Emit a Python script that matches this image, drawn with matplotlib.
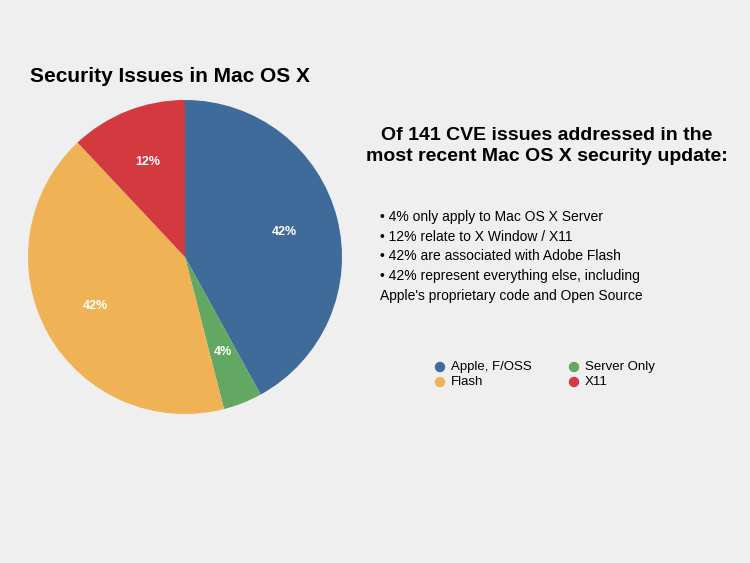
import matplotlib
matplotlib.use("Agg")
import matplotlib.pyplot as plt
plt.rcParams["font.family"] = "Liberation Sans"

categories = ["Apple, F/OSS", "Server Only", "Flash", "X11"]
values = [42, 4, 42, 12]
colors = ["#3f6b9b", "#62a862", "#efb255", "#d23a40"]
bullets = ["• 4% only apply to Mac OS X Server",
           "• 12% relate to X Window / X11",
           "• 42% are associated with Adobe Flash",
           "• 42% represent everything else, including",
           "Apple's proprietary code and Open Source"]

W, H = 750, 563
fig = plt.figure(figsize=(7.5, 5.63), dpi=100, facecolor="#efefef")
cx, cy, r = 185, 257, 157
ax = fig.add_axes([(cx - r) / W, 1 - (cy + r) / H, 2 * r / W, 2 * r / H])
ax.set_facecolor("#efefef")
wedges, texts, autotexts = ax.pie(values, colors=colors, startangle=90, counterclock=False,
                                  autopct=lambda p: f"{p:.0f}%", pctdistance=0.65,
                                  textprops=dict(color="white", fontsize=9, fontweight="bold"))
ax.set_xlim(-1, 1)
ax.set_ylim(-1, 1)
ax.set_aspect("equal")

fig.text(30 / W, 1 - 77 / H, "Security Issues in Mac OS X", fontsize=15, fontweight="bold",
         va="center", ha="left")
fig.text(547 / W, 1 - 146 / H, "Of 141 CVE issues addressed in the\nmost recent Mac OS X security update:",
         fontsize=14, fontweight="bold", ha="center", va="center", linespacing=1.25)
for i, b in enumerate(bullets):
    fig.text(380 / W, 1 - (217 + i * 19.7) / H, b, fontsize=10, va="center", ha="left")

lx = [440, 574]
ly = [367, 382]
order = [(0, 0, 0), (1, 1, 0), (2, 0, 1), (3, 1, 1)]
for idx, c, rr in order:
    x, y = lx[c] / W, 1 - ly[rr] / H
    fig.patches.append(matplotlib.patches.Ellipse((x, y), 9 / W, 9 / H, transform=fig.transFigure,
                                                  color=colors[idx], figure=fig))
    fig.text(x + 11 / W, y, categories[idx], fontsize=9.5, va="center", ha="left")

fig.savefig("out.png", dpi=100, facecolor=fig.get_facecolor())
